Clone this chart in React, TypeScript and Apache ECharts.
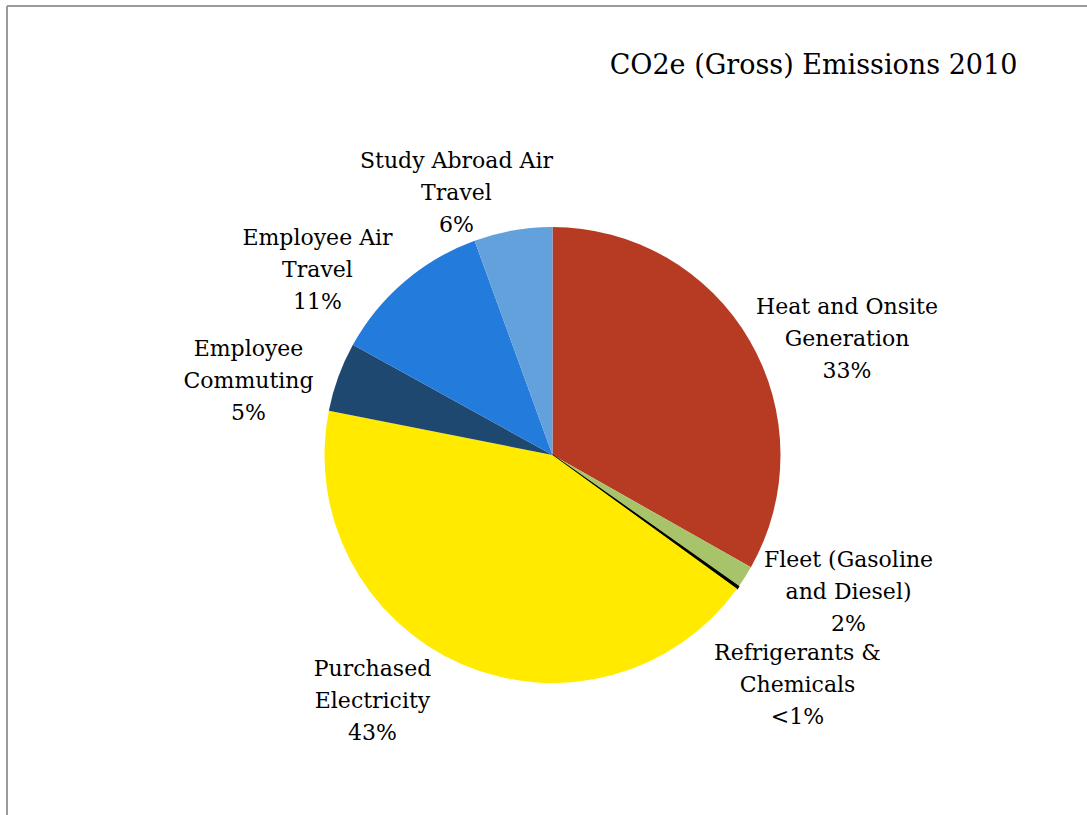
import React, { useEffect, useRef } from "react";
import * as echarts from "echarts";

// Emission sources, in drawing order (clockwise from 12 o'clock)
const categories = [
  "Heat and Onsite\nGeneration",
  "Fleet (Gasoline\nand Diesel)",
  "Refrigerants &\nChemicals",
  "Purchased\nElectricity",
  "Employee\nCommuting",
  "Employee Air\nTravel",
  "Study Abroad Air\nTravel",
];

// Share of gross CO2e emissions, percent
const shares = [33.2, 1.58, 0.2, 43.13, 4.92, 11.42, 5.55];

const sliceColors = [
  "#B63B22",
  "#A8C46A",
  "#000000",
  "#FFEA00",
  "#1E4870",
  "#237BDB",
  "#63A1DC",
];

const titleText = "CO2e (Gross) Emissions 2010";

// Layout
const WIDTH = 1087;
const HEIGHT = 815;
const PIE_CX = 552.5;
const PIE_CY = 455;
const PIE_R = 228;

// Label block centres, as offsets from the pie centre
const labelOffsets: [number, number][] = [
  [294.5, -117],
  [296, 136],
  [245, 229],
  [-180, 245.5],
  [-304, -74.5],
  [-235, -185.5],
  [-96, -262.5],
];

const FONT = "'DejaVu Serif', serif";

export default function App() {
  const ref = useRef<HTMLDivElement>(null);

  useEffect(() => {
    if (!ref.current) return;
    const chart = echarts.init(ref.current, undefined, { renderer: "svg" });

    const formatPct = (p: number) => (p < 1 ? "<1%" : Math.round(p) + "%");

    chart.setOption({
      animation: false,
      backgroundColor: "#ffffff",
      graphic: [
        {
          type: "line",
          shape: { x1: 7, y1: 6, x2: WIDTH, y2: 6 },
          style: { stroke: "#9b9b9b", lineWidth: 2 },
          silent: true,
        },
        {
          type: "line",
          shape: { x1: 7, y1: 6, x2: 7, y2: HEIGHT },
          style: { stroke: "#9b9b9b", lineWidth: 2 },
          silent: true,
        },
        {
          type: "text",
          x: 813.5,
          y: 64,
          style: {
            text: titleText,
            fill: "#000000",
            font: `27px ${FONT}`,
            align: "center",
            verticalAlign: "middle",
          },
          silent: true,
        },
      ],
      series: [
        {
          type: "pie",
          center: [PIE_CX, PIE_CY],
          radius: PIE_R,
          startAngle: 90,
          clockwise: true,
          avoidLabelOverlap: false,
          silent: true,
          emphasis: { disabled: true },
          itemStyle: { borderWidth: 0 },
          label: {
            show: true,
            position: "outside",
            color: "#000000",
            fontFamily: FONT,
            fontSize: 22,
            lineHeight: 32,
            align: "center",
            formatter: (p: any) => `${p.name}\n${formatPct(p.percent)}`,
          },
          labelLine: { show: false },
          labelLayout: (params: any) => {
            const [dx, dy] = labelOffsets[params.dataIndex];
            return {
              x: PIE_CX + dx,
              y: PIE_CY + dy,
              align: "center",
              verticalAlign: "middle",
            };
          },
          data: categories.map((name, i) => ({
            name,
            value: shares[i],
            itemStyle:
              sliceColors[i] === "#000000"
                ? { color: sliceColors[i], borderColor: "#000000", borderWidth: 1.2 }
                : { color: sliceColors[i] },
          })),
        },
      ],
    });

    return () => chart.dispose();
  }, []);

  return (
    <div
      ref={ref}
      style={{
        position: "absolute",
        left: 0,
        top: 0,
        width: WIDTH,
        height: HEIGHT,
      }}
    />
  );
}
